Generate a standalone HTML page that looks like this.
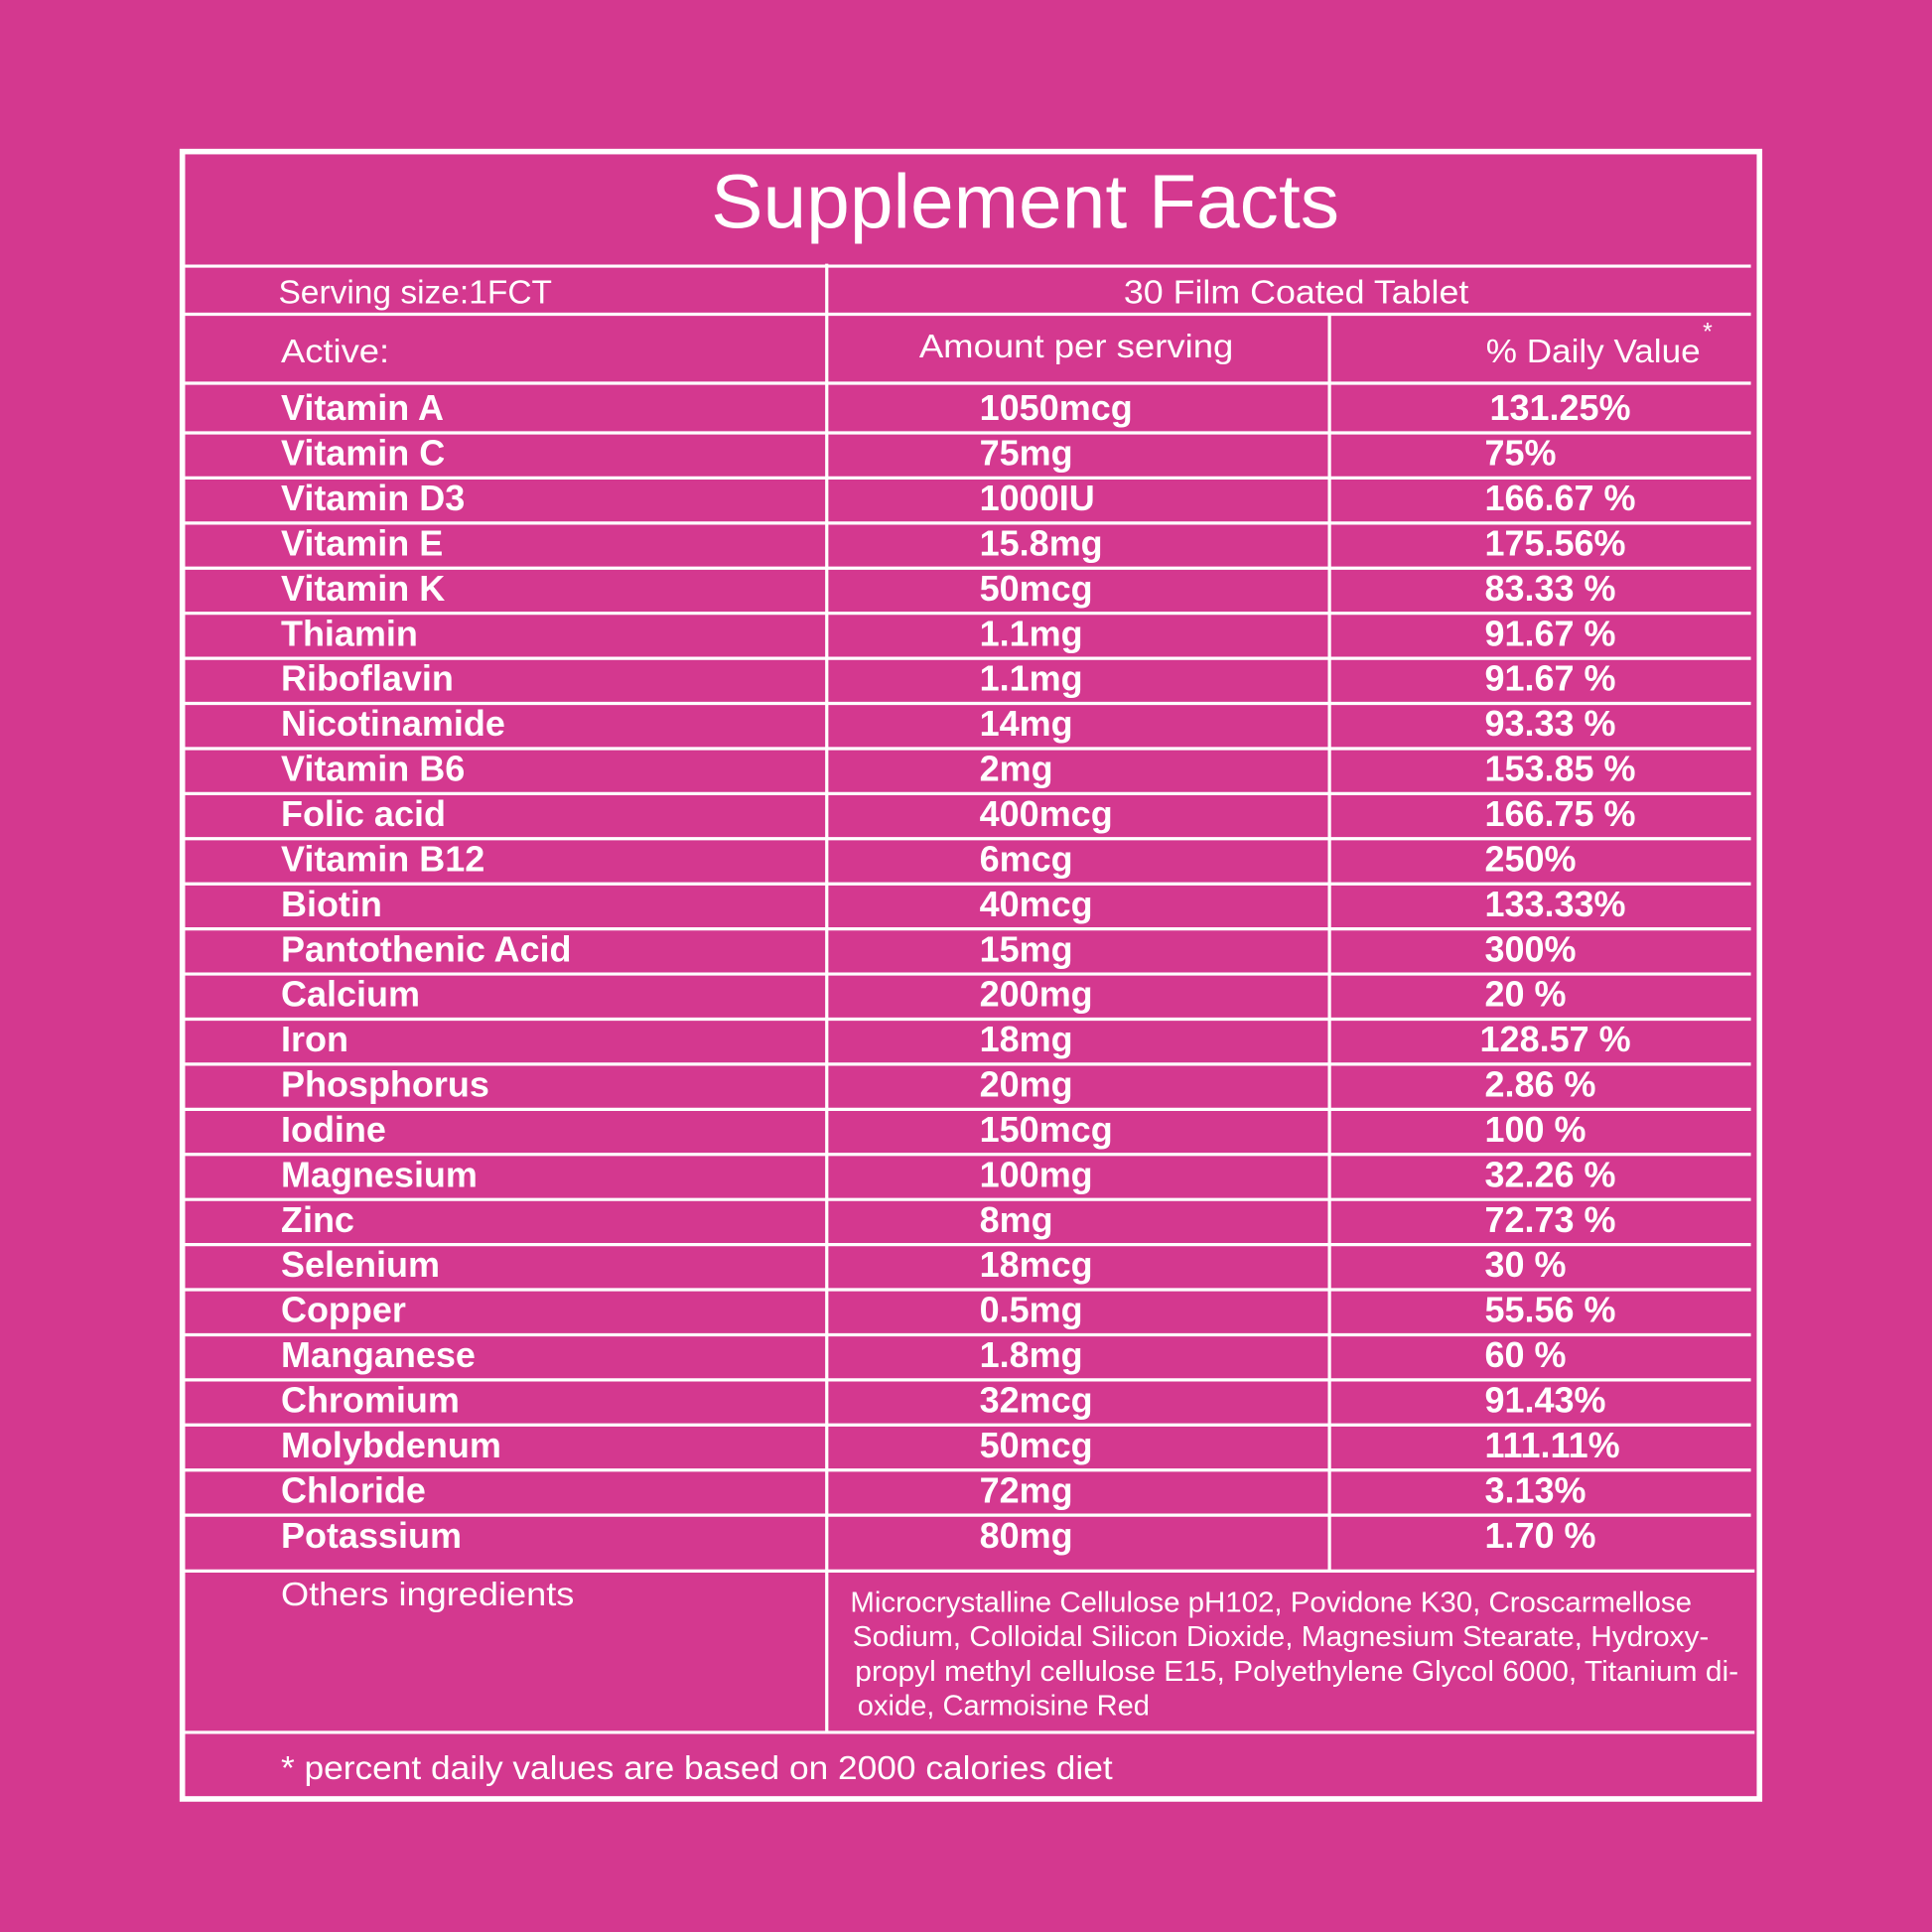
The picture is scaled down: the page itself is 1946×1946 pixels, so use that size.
<!DOCTYPE html>
<html><head><meta charset="utf-8"><style>
html,body{margin:0;padding:0;background:#d4388f;}
svg{display:block;}
text{fill:#fff;font-family:"Liberation Sans",sans-serif;}
.b{font-weight:bold;font-size:29px;}
.r{font-size:27px;}
</style></head><body>
<svg width="1946" height="1946" viewBox="0 0 1568 1568" xmlns="http://www.w3.org/2000/svg">
<rect width="1568" height="1568" fill="#d4388f"/>
<rect x="148" y="123" width="1280" height="1337" fill="none" stroke="#fff" stroke-width="4.5"/>
<g stroke="#fff" stroke-width="2.6">
<line x1="150" y1="216" x2="1421" y2="216"/>
<line x1="150" y1="255" x2="1421" y2="255"/>
<line x1="150" y1="311" x2="1421" y2="311"/>
<line x1="671" y1="214" x2="671" y2="1406"/>
<line x1="1079" y1="255" x2="1079" y2="1275"/>
<line x1="150" y1="1275" x2="1424" y2="1275"/>
<line x1="150" y1="1406" x2="1424" y2="1406"/>
<line x1="150" y1="351.3" x2="1421" y2="351.3"/><line x1="150" y1="387.9" x2="1421" y2="387.9"/><line x1="150" y1="424.5" x2="1421" y2="424.5"/><line x1="150" y1="461.1" x2="1421" y2="461.1"/><line x1="150" y1="497.7" x2="1421" y2="497.7"/><line x1="150" y1="534.3" x2="1421" y2="534.3"/><line x1="150" y1="570.9" x2="1421" y2="570.9"/><line x1="150" y1="607.5" x2="1421" y2="607.5"/><line x1="150" y1="644.1" x2="1421" y2="644.1"/><line x1="150" y1="680.7" x2="1421" y2="680.7"/><line x1="150" y1="717.3" x2="1421" y2="717.3"/><line x1="150" y1="753.9" x2="1421" y2="753.9"/><line x1="150" y1="790.5" x2="1421" y2="790.5"/><line x1="150" y1="827.1" x2="1421" y2="827.1"/><line x1="150" y1="863.7" x2="1421" y2="863.7"/><line x1="150" y1="900.3" x2="1421" y2="900.3"/><line x1="150" y1="936.9" x2="1421" y2="936.9"/><line x1="150" y1="973.5" x2="1421" y2="973.5"/><line x1="150" y1="1010.1" x2="1421" y2="1010.1"/><line x1="150" y1="1046.7" x2="1421" y2="1046.7"/><line x1="150" y1="1083.3" x2="1421" y2="1083.3"/><line x1="150" y1="1119.9" x2="1421" y2="1119.9"/><line x1="150" y1="1156.5" x2="1421" y2="1156.5"/><line x1="150" y1="1193.1" x2="1421" y2="1193.1"/><line x1="150" y1="1229.7" x2="1421" y2="1229.7"/>
</g>
<text x="832" y="185" text-anchor="middle" font-size="62" textLength="510" lengthAdjust="spacingAndGlyphs">Supplement Facts</text>
<text class="r" x="226" y="246" textLength="222" lengthAdjust="spacingAndGlyphs">Serving size:1FCT</text>
<text class="r" x="912" y="246" textLength="280" lengthAdjust="spacingAndGlyphs">30 Film Coated Tablet</text>
<text class="r" x="228" y="294" textLength="88" lengthAdjust="spacingAndGlyphs">Active:</text>
<text class="r" x="746" y="290" textLength="255" lengthAdjust="spacingAndGlyphs">Amount per serving</text>
<text class="r" x="1206" y="294" textLength="174" lengthAdjust="spacingAndGlyphs">% Daily Value</text>
<text x="1382" y="276" font-size="20">*</text>
<g transform="translate(228,0)">
<text class="b" y="341">Vitamin A</text><text class="b" y="377.6">Vitamin C</text><text class="b" y="414.2">Vitamin D3</text><text class="b" y="450.8">Vitamin E</text><text class="b" y="487.4">Vitamin K</text><text class="b" y="524">Thiamin</text><text class="b" y="560.6">Riboflavin</text><text class="b" y="597.2">Nicotinamide</text><text class="b" y="633.8">Vitamin B6</text><text class="b" y="670.4">Folic acid</text><text class="b" y="707">Vitamin B12</text><text class="b" y="743.6">Biotin</text><text class="b" y="780.2">Pantothenic Acid</text><text class="b" y="816.8">Calcium</text><text class="b" y="853.4">Iron</text><text class="b" y="890">Phosphorus</text><text class="b" y="926.6">Iodine</text><text class="b" y="963.2">Magnesium</text><text class="b" y="999.8">Zinc</text><text class="b" y="1036.4">Selenium</text><text class="b" y="1073">Copper</text><text class="b" y="1109.6">Manganese</text><text class="b" y="1146.2">Chromium</text><text class="b" y="1182.8">Molybdenum</text><text class="b" y="1219.4">Chloride</text><text class="b" y="1256">Potassium</text>
</g>
<g transform="translate(795,0)">
<text class="b" y="341">1050mcg</text><text class="b" y="377.6">75mg</text><text class="b" y="414.2">1000IU</text><text class="b" y="450.8">15.8mg</text><text class="b" y="487.4">50mcg</text><text class="b" y="524">1.1mg</text><text class="b" y="560.6">1.1mg</text><text class="b" y="597.2">14mg</text><text class="b" y="633.8">2mg</text><text class="b" y="670.4">400mcg</text><text class="b" y="707">6mcg</text><text class="b" y="743.6">40mcg</text><text class="b" y="780.2">15mg</text><text class="b" y="816.8">200mg</text><text class="b" y="853.4">18mg</text><text class="b" y="890">20mg</text><text class="b" y="926.6">150mcg</text><text class="b" y="963.2">100mg</text><text class="b" y="999.8">8mg</text><text class="b" y="1036.4">18mcg</text><text class="b" y="1073">0.5mg</text><text class="b" y="1109.6">1.8mg</text><text class="b" y="1146.2">32mcg</text><text class="b" y="1182.8">50mcg</text><text class="b" y="1219.4">72mg</text><text class="b" y="1256">80mg</text>
</g>
<g transform="translate(1205,0)">
<text class="b" x="4" y="341">131.25%</text><text class="b" y="377.6">75%</text><text class="b" y="414.2">166.67 %</text><text class="b" y="450.8">175.56%</text><text class="b" y="487.4">83.33 %</text><text class="b" y="524">91.67 %</text><text class="b" y="560.6">91.67 %</text><text class="b" y="597.2">93.33 %</text><text class="b" y="633.8">153.85 %</text><text class="b" y="670.4">166.75 %</text><text class="b" y="707">250%</text><text class="b" y="743.6">133.33%</text><text class="b" y="780.2">300%</text><text class="b" y="816.8">20 %</text><text class="b" x="-4" y="853.4">128.57 %</text><text class="b" y="890">2.86 %</text><text class="b" y="926.6">100 %</text><text class="b" y="963.2">32.26 %</text><text class="b" y="999.8">72.73 %</text><text class="b" y="1036.4">30 %</text><text class="b" y="1073">55.56 %</text><text class="b" y="1109.6">60 %</text><text class="b" y="1146.2">91.43%</text><text class="b" y="1182.8">111.11%</text><text class="b" y="1219.4">3.13%</text><text class="b" y="1256">1.70 %</text>
</g>
<text class="r" x="228" y="1303" textLength="238" lengthAdjust="spacingAndGlyphs">Others ingredients</text>
<text x="690" y="1308" font-size="23" textLength="683" lengthAdjust="spacingAndGlyphs">Microcrystalline Cellulose pH102, Povidone K30, Croscarmellose</text>
<text x="692" y="1336" font-size="23" textLength="695" lengthAdjust="spacingAndGlyphs">Sodium, Colloidal Silicon Dioxide, Magnesium Stearate, Hydroxy-</text>
<text x="694" y="1364" font-size="23" textLength="717" lengthAdjust="spacingAndGlyphs">propyl methyl cellulose E15, Polyethylene Glycol 6000, Titanium di-</text>
<text x="696" y="1392" font-size="23" textLength="237" lengthAdjust="spacingAndGlyphs">oxide, Carmoisine Red</text>
<text class="r" x="228" y="1444" textLength="675" lengthAdjust="spacingAndGlyphs">* percent daily values are based on 2000 calories diet</text>
</svg>
</body></html>
